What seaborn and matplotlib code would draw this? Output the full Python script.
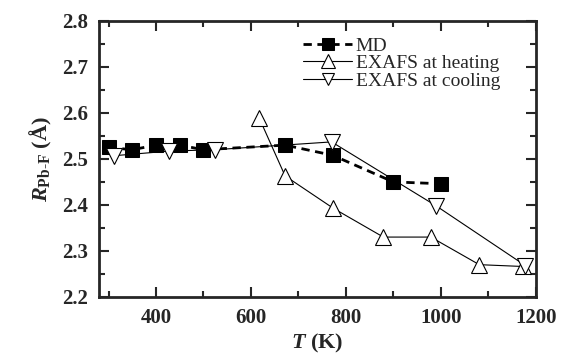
import pandas as pd
import seaborn as sns
from matplotlib import pyplot as plt
from matplotlib.ticker import MultipleLocator

sns.set_style('ticks')
plt.rcParams['font.family'] = ['Liberation Serif', 'DejaVu Serif']
plt.rcParams['mathtext.fontset'] = 'custom'
plt.rcParams['mathtext.rm'] = 'Liberation Serif'
plt.rcParams['mathtext.it'] = 'Liberation Serif:italic:bold'
plt.rcParams['mathtext.bf'] = 'Liberation Serif:bold'

# MD simulation
md_T = [300, 350, 400, 450, 500, 672, 772, 900, 1000]
md_R = [2.525, 2.52, 2.53, 2.53, 2.52, 2.53, 2.508, 2.45, 2.446]

# EXAFS at heating
heat_T = [617, 672, 773, 879, 979, 1081, 1173]
heat_R = [2.59, 2.463, 2.393, 2.33, 2.33, 2.27, 2.266]

# EXAFS at cooling
cool_T = [312, 428, 524, 770, 990, 1178]
cool_R = [2.507, 2.517, 2.52, 2.537, 2.398, 2.268]

md = pd.DataFrame({'T': md_T, 'R': md_R})
heat = pd.DataFrame({'T': heat_T, 'R': heat_R})
cool = pd.DataFrame({'T': cool_T, 'R': cool_R})

fig = plt.figure(figsize=(5.61, 3.62), dpi=100)
ax = fig.add_axes([0.1765, 0.180, 0.7785, 0.762])

sns.lineplot(data=md, x='T', y='R', ax=ax, color='black', lw=2, ls=(0, (3, 2)),
             marker='s', markersize=10, markerfacecolor='black',
             markeredgecolor='black', sort=False, label='MD')
sns.lineplot(data=heat, x='T', y='R', ax=ax, color='black', lw=0.8,
             marker='^', markersize=12, markerfacecolor='white',
             markeredgecolor='black', markeredgewidth=0.8, sort=False,
             label='EXAFS at heating')
sns.lineplot(data=cool, x='T', y='R', ax=ax, color='black', lw=0.8,
             marker='v', markersize=11, markerfacecolor='white',
             markeredgecolor='black', markeredgewidth=0.8, sort=False,
             label='EXAFS at cooling')

ax.set_xlim(280, 1200)
ax.set_ylim(2.2, 2.8)
ax.xaxis.set_major_locator(MultipleLocator(200))
ax.xaxis.set_minor_locator(MultipleLocator(100))
ax.yaxis.set_major_locator(MultipleLocator(0.1))
ax.yaxis.set_minor_locator(MultipleLocator(0.05))
ax.tick_params(which='both', direction='in', top=True, right=True, width=1.5)
ax.tick_params(which='major', length=7, labelsize=15, pad=8)
ax.tick_params(which='minor', length=4)
for lab in ax.get_xticklabels() + ax.get_yticklabels():
    lab.set_fontweight('bold')
for s in ax.spines.values():
    s.set_linewidth(2)

ax.set_xlabel(r'$T$ (K)', fontsize=16, fontweight='bold', labelpad=3)
ax.set_ylabel(r'$R_{\mathregular{Pb\text{-}F}}$ (Å)', fontsize=16,
              fontweight='bold', labelpad=6)

leg = ax.legend(loc='upper left', bbox_to_anchor=(0.45, 0.97), frameon=False,
                fontsize=14, handlelength=2.5, handletextpad=0.2,
                labelspacing=0.0, borderaxespad=0, markerscale=0.85)

fig.savefig('out.png', dpi=100)
